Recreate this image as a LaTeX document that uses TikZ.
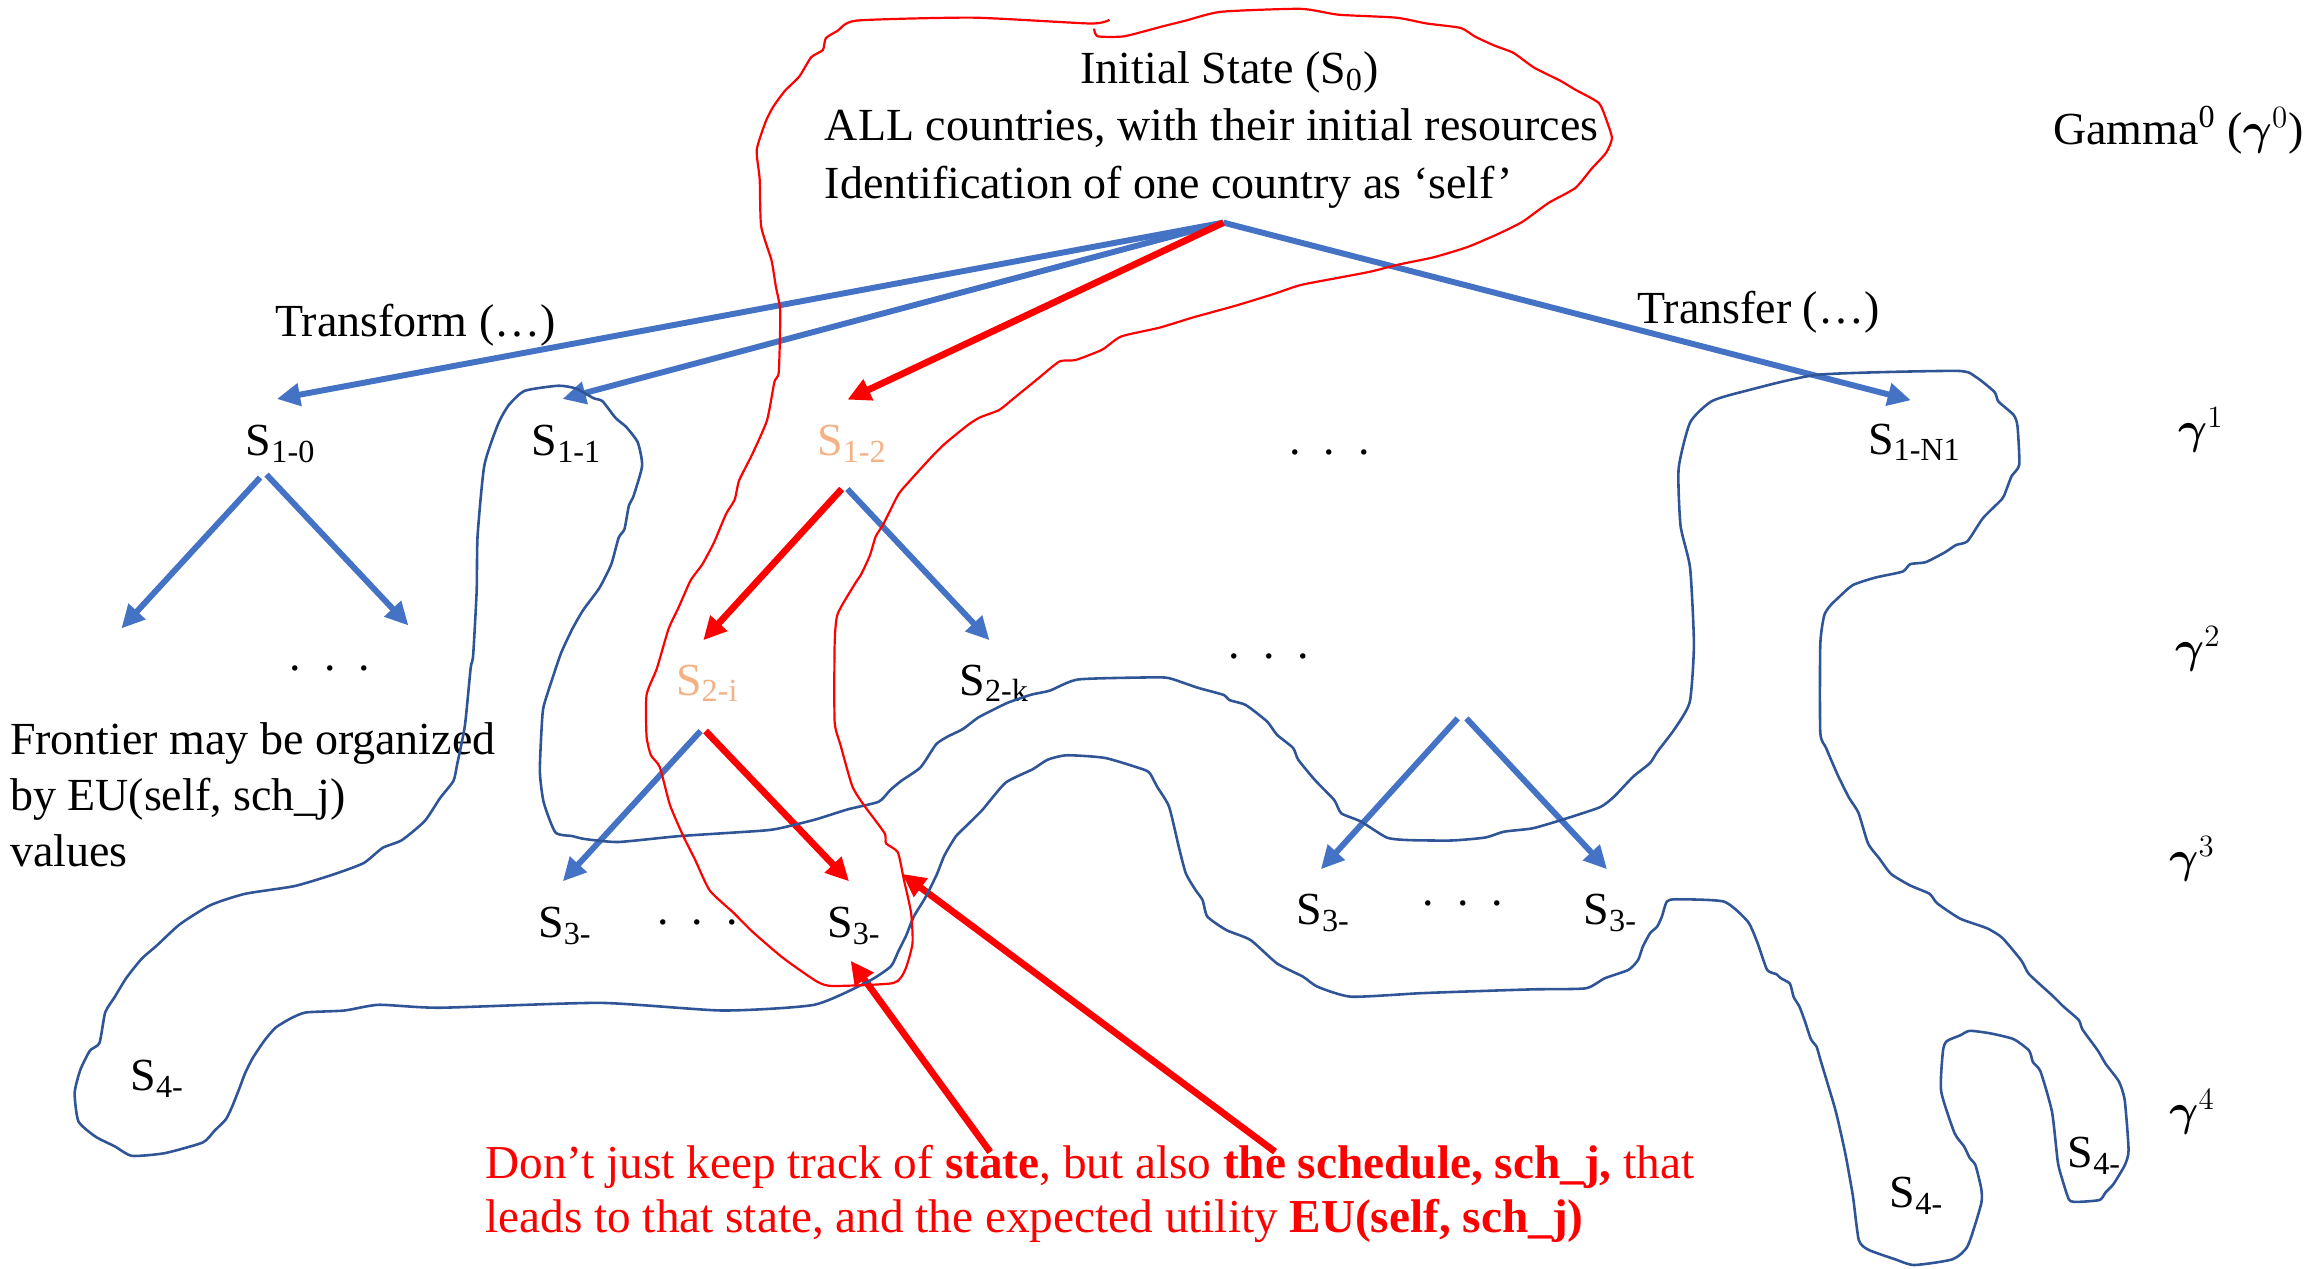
\documentclass[tikz,border=0pt]{standalone}
\usepackage{fontspec}
\usepackage{bm}
\setmainfont{Liberation Serif}
\usetikzlibrary{arrows.meta}
\definecolor{arrowblue}{HTML}{4472C4}
\definecolor{penblue}{HTML}{2F5597}
\definecolor{penred}{HTML}{FF0000}
\definecolor{paleorange}{HTML}{F4B183}
% three spaced baseline dots
\newcommand\tdots{.\hspace{0.5em}.\hspace{0.5em}.}
\begin{document}
\begin{tikzpicture}[x=0.02cm,y=-0.02cm,
  lbl/.style={inner sep=0pt, anchor=base west, font=\fontsize{17.8}{22.2}\selectfont},
  statelbl/.style={lbl},
  hotlbl/.style={lbl, text=paleorange},
  note/.style={lbl, text=penred, font=\fontsize{18.3}{22.2}\selectfont},
  bluearrow/.style={draw=arrowblue, line width=2.3pt, -{Triangle[length=9pt,width=8.5pt]}},
  redarrow/.style={draw=penred, line width=2.6pt, -{Triangle[length=9pt,width=8.5pt]}},
  blueloop/.style={draw=penblue, line width=1pt, line join=round},
  redloop/.style={draw=penred, line width=0.85pt, line join=round}
]
\useasboundingbox (0,0) rectangle (1568,863);

% ---------- root description ----------
\node[lbl] (root1) at (735,57) {Initial State (S\textsubscript{0})};
\node[lbl] (root2) at (561,95.5) {ALL countries, with their initial resources};
\node[lbl] (root3) at (561,135) {Identification of one country as ‘self’};

% ---------- level labels ----------
\node[lbl] (g0) at (1397,98) {Gamma\textsuperscript{0} ($\bm{\gamma}^0$)};
\node[lbl] (g1) at (1482,302) {$\bm{\gamma}^1$};
\node[lbl] (g2) at (1480,451) {$\bm{\gamma}^2$};
\node[lbl] (g3) at (1476,594) {$\bm{\gamma}^3$};
\node[lbl] (g4) at (1476,766) {$\bm{\gamma}^4$};

% ---------- action labels ----------
\node[lbl] (transform) at (187,229) {Transform (…)};
\node[lbl] (transfer) at (1114,220) {Transfer (…)};

% ---------- states ----------
\node[statelbl] (s10) at (167,310) {S\textsubscript{1-0}};
\node[statelbl] (s11) at (361.5,310) {S\textsubscript{1-1}};
\node[hotlbl] (s12) at (555.8,310) {S\textsubscript{1-2}};
\node[lbl] (d1) at (877,309.5) {\tdots};
\node[statelbl] (s1n) at (1271,309) {S\textsubscript{1-N1}};

\node[lbl] (d0) at (197,456.5) {\tdots};
\node[hotlbl] (s2i) at (459.8,473) {S\textsubscript{2-i}};
\node[statelbl] (s2k) at (652.6,473) {S\textsubscript{2-k}};
\node[lbl] (d2) at (836,448) {\tdots};

\node[statelbl] (s3a) at (366,638) {S\textsubscript{3-}};
\node[lbl] (d3a) at (447,629) {\tdots};
\node[statelbl] (s3b) at (562.7,638) {S\textsubscript{3-}};
\node[statelbl] (s3c) at (882,629.5) {S\textsubscript{3-}};
\node[lbl] (d3b) at (968,616) {\tdots};
\node[statelbl] (s3d) at (1077.4,629.5) {S\textsubscript{3-}};

\node[statelbl] (s4a) at (88.5,742.4) {S\textsubscript{4-}};
\node[statelbl] (s4b) at (1285.8,821.8) {S\textsubscript{4-}};
\node[statelbl] (s4c) at (1406.9,794.5) {S\textsubscript{4-}};

% ---------- side remark ----------
\node[lbl] (front1) at (6.5,513.2) {Frontier may be organized};
\node[lbl] (front2) at (6.5,551.5) {by EU(self, sch\_j)};
\node[lbl] (front3) at (6.5,590) {values};

% ---------- red remark ----------
\node[note] (rem1) at (330,802.3) {Don’t just keep track of \textbf{state}, but also \textbf{the schedule, sch\_j,} that};
\node[note] (rem2) at (330,838.7) {leads to that state, and the expected utility \textbf{EU(self, sch\_j)}};

% ---------- arrow end points ----------
\coordinate (apex) at (832.6,151.5);
\coordinate (in10) at (188.4,271.5);
\coordinate (in11) at (382.8,271.5);
\coordinate (in12) at (576.7,272);
\coordinate (in1n) at (1300.5,272.4);
\coordinate (out10a) at (177,325);
\coordinate (out10b) at (181.4,323);
\coordinate (c10a) at (82.6,427.7);
\coordinate (c10b) at (278,425.7);
\coordinate (out12a) at (572.8,332.8);
\coordinate (out12b) at (576.7,332.8);
\coordinate (in2i) at (478.6,435.7);
\coordinate (in2k) at (673.4,435.7);
\coordinate (out2ia) at (476.8,497.5);
\coordinate (out2ib) at (480.2,497.5);
\coordinate (in3a) at (383,599.8);
\coordinate (in3b) at (577.8,599.8);
\coordinate (fork) at (995,488.9);
\coordinate (in3c) at (898.9,591.6);
\coordinate (in3d) at (1093.7,591.6);
\coordinate (tailA) at (673.9,784);
\coordinate (headA) at (578.9,653.8);
\coordinate (tailB) at (867.7,783.8);
\coordinate (headB) at (614,594.7);

% ---------- tree edges ----------
\draw[bluearrow] (apex) -- (in10);
\draw[bluearrow] (apex) -- (in11);
\draw[bluearrow] (apex) -- (in1n);
\draw[redarrow] (apex) -- (in12);
\draw[bluearrow] (out10a) -- (c10a);
\draw[bluearrow] (out10b) -- (c10b);
\draw[redarrow] (out12a) -- (in2i);
\draw[bluearrow] (out12b) -- (in2k);
\draw[bluearrow] (out2ia) -- (in3a);
\draw[redarrow] (out2ib) -- (in3b);
\draw[bluearrow] ([xshift=-1.7]fork) -- (in3c);
\draw[bluearrow] ([xshift=1.7]fork) -- (in3d);
\draw[redarrow] (tailA) -- (headA);
\draw[redarrow] (tailB) -- (headB);

% ---------- hand-drawn frontier outline ----------
\draw[blueloop] plot[smooth cycle, tension=0.35] coordinates {
(320.3,454.6) (322,446) (324.4,402) (325,365) (329.6,316.8) (338.8,289) (346,276)
(357,266) (380,262.5) (392,264.4) (404,271) (410,273) (419,284.5) (426,290.4)
(434,301) (437,317) (431,338) (428,344) (425,360) (421,366) (416,384) (408,400)
(397,415) (389.5,428) (382,444) (376.5,460) (370,480.5) (368.7,493.5) (367.4,525)
(370,546) (378,566.5) (389.5,569) (398,571) (420.8,573) (462.4,569) (522.3,565)
(540.6,561.3) (556,557.4) (577,550.8) (598,545.6) (605.7,537.8) (613.5,531.3)
(626.5,522.2) (637,506.6) (644.7,501.4) (655.2,496.2) (665.6,488.4) (676,483)
(686.4,478) (702,472.7) (714.5,470) (733.8,462.4) (782.6,461) (795.6,461.5)
(815,468) (833,473) (836.5,476.4) (847.8,479.8) (862.3,491) (869,500) (880,509)
(883.5,517) (895,531) (908,544.5) (912.8,553.5) (926,559) (943.8,570) (958.5,571.7)
(987.8,572) (1010.6,570) (1023.6,566) (1043,563.7) (1062.7,558) (1088.7,549.4)
(1098.4,542.2) (1111.4,528.6) (1122.9,519.3) (1128,511.5) (1139.8,495.9)
(1150,477.6) (1152.8,438.6) (1150.2,386.5) (1143.7,357.8) (1142.4,318.8)
(1150.2,287.5) (1164.6,273.2) (1185.4,266.7) (1237.5,255) (1331.2,252.4)
(1344.3,256.3) (1357.3,266.7) (1360,273.2) (1370.3,282.3) (1373,290) (1374.2,316.2)
(1369,324) (1365,334.4) (1362.5,339.6) (1349.5,352.6) (1339,368.3) (1331.2,370.9)
(1323.4,376) (1310.4,382.6) (1300,383.9) (1294.8,389) (1276.5,393) (1260.9,398.2)
(1250.5,407.3) (1245.3,412.5) (1241.4,419) (1238.8,438.6) (1238.8,498.5)
(1242.7,508.9) (1250.5,527.1) (1258.3,542.8) (1264.8,553.2) (1271.3,574)
(1279.1,584.4) (1287,594.8) (1300,602.6) (1313.2,608.3) (1318.4,614.8)
(1334,625.2) (1352.2,631.7) (1362.6,638.2) (1375.7,653.8) (1380.9,663)
(1396.5,677.3) (1404.3,685) (1414.7,694.2) (1417.3,700.7) (1427.7,715) (1433,724)
(1442,736) (1446,748.9) (1448.6,782.7) (1446,793) (1438.2,806) (1433,811.4)
(1429,816.6) (1414.7,817.9) (1408.2,816.6) (1403,801) (1400.4,790.5) (1396.5,756.7)
(1388.7,729.3) (1383.5,722.8) (1380.9,715) (1370.4,707.2) (1354.8,703.3)
(1340.5,701.5) (1334,704.6) (1324.9,708.5) (1322.3,715) (1321,742.4) (1330.1,771)
(1336.6,780.1) (1340.5,788) (1344.4,793) (1348.3,808.8) (1348.3,819.2)
(1339.2,847.8) (1328.8,857) (1302.7,860.9) (1289.7,857) (1271.5,850.5) (1265,843.9)
(1261,814) (1255.9,785.4) (1250.7,761.9) (1248,751.5) (1239,721.6) (1236.3,712.4)
(1232.4,707.2) (1228.5,695.5) (1224.6,685) (1220.7,678.6) (1218.1,669.4)
(1211.6,665.5) (1209,663) (1202.6,660) (1196.2,642) (1189.5,627.2) (1173.3,613.6)
(1140.8,612) (1134.3,613.6) (1131,623.8) (1127.7,630.7) (1123,635) (1118,644.3)
(1114.8,653.3) (1108.3,660) (1092,665.8) (1079,672.6) (1043,673.3) (991,675)
(965,676) (919.4,678.3) (896.6,671.5) (886.8,664.7) (869,655.6) (851,639.7)
(834.7,633) (821.7,623.8) (818.4,612.5) (813.6,605.7) (807,594.3) (802.2,576.2)
(795.6,549) (787.5,535.4) (782.6,526.3) (778,523.6) (752,515.8) (726,514) (713,517)
(702.6,523.6) (684.3,532.7) (668.7,551) (658.3,561.4) (650.5,569.2) (642.7,582.2)
(637.5,595.2) (629.7,610.9) (621.8,623.9) (616.6,636.9) (611.4,647.3) (606.2,657.7)
(590.6,668.1) (554.1,683.8) (491.6,687.7) (408.3,682.5) (299.5,685.8) (257.8,683.8)
(234.4,687.7) (208.3,689) (198,693) (187.5,699.4) (179.7,708.5) (171.9,720.2)
(166.7,730.6) (162.8,741) (157.6,754) (153.6,761.9) (145.8,769.7) (138,777.5)
(112,784.8) (89.8,786.6) (78,780.1) (65.1,773.6) (53.4,763.2) (50.8,743.7)
(54.7,728) (61.2,715) (67.7,709.8) (71.6,689) (78,678.6) (86,665.5) (96.4,652.5)
(106.8,643.4) (122.4,629) (143.2,616) (166.7,608.3) (200.5,603) (226.6,595.2)
(247.4,587.4) (260.4,577) (273.4,571.8) (289,558.8) (299.5,543.1) (308.6,531.4)
(311.2,519.7) (316.4,493.7)
};

% ---------- hand-drawn path of interest ----------
\draw[redloop] plot[smooth, tension=0.35] coordinates {
(744.6,19.5) (747,24.7) (765,24.7) (791,18) (807,14) (831,8) (885,6) (911,10)
(950,12) (971,16) (994,19) (1004,25) (1017,31) (1030,36) (1044,46) (1062,55)
(1072,61) (1088,70) (1093,81) (1097,94) (1093,104) (1083,115) (1072,128) (1054,138)
(1036,151) (1020,159) (999,168) (976,175) (952,180) (932,185) (911,189) (885,194)
(867,200) (841,208) (812,216) (789,223) (763,229) (750,238) (732,245) (721,246)
(706,258) (690,271) (680,279) (667,284) (659,289) (643,302) (633,312) (614,333)
(610,339) (601,357) (596,365) (592,378) (586,391) (582,397) (570,418) (568,439)
(568,491) (572,507) (580,535) (588,548) (602,567) (603,574) (611,580) (615,598)
(620,621) (621,642) (616,660) (608,669) (567,671) (556,668) (533,652) (512,634)
(499,621) (483,606) (473,585) (465,569) (456,548) (449,522) (443,514) (440,501)
(440,473) (447,455) (455,428) (462,413) (470,395) (478,384) (486,369) (494,350)
(500,340) (503,327) (512,309) (522,286) (527,260) (530,253) (531,212) (528,195)
(525,177) (518,154) (517,122) (515,102) (521,83) (526,73) (534,62) (544,52)
(552,39) (560,34) (562,26) (570,21) (583,14) (662,12) (742,16) (755,13.5)
};
\end{tikzpicture}
\end{document}
